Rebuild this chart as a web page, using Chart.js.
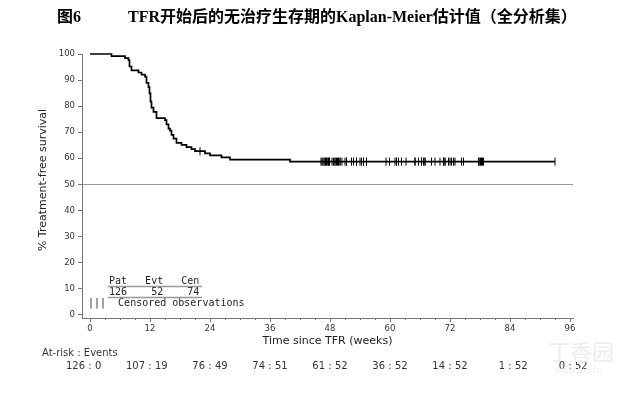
<!DOCTYPE html>
<html>
<head>
<meta charset="utf-8">
<script src="https://cdn.jsdelivr.net/npm/chart.js@4.4.0/dist/chart.umd.min.js"></script>
<style>
  html, body { margin: 0; padding: 0; background: #fff; }
</style>
</head>
<body>
<canvas id="km" width="630" height="393"></canvas>
<script>
// Kaplan-Meier steps: week of drop, % treatment-free after it
var stepWeeks = [0, 4.3, 7.0, 7.7, 7.9, 8.3, 9.7, 10.3, 11.0, 11.3, 11.7, 11.9, 12.1, 12.3, 12.7, 13.3,
  15.0, 15.3, 15.7, 16.0, 16.3, 16.7, 17.3, 18.3, 19.3, 20.3, 21.0, 23.0, 24.0, 26.3, 28.0, 40.0, 93.0];
var stepSurv = [100, 99.2, 98.4, 97.6, 95.2, 93.7, 92.9, 92.1, 91.3, 88.9, 87.3, 84.9, 81.7, 79.4, 77.8, 75.4,
  74.6, 73.0, 71.4, 70.6, 69.0, 67.5, 65.9, 65.1, 64.3, 63.5, 62.7, 61.9, 61.1, 60.3, 59.5, 58.7, 58.7];

// censored observations (weeks)
var censorWeeks = [22.0,
  46.2, 46.4, 46.6, 46.8, 47.0, 47.1, 47.3, 47.4, 47.6, 47.7, 47.9, 47.9,
  48.4, 48.7, 49.0, 49.0, 49.3, 49.5, 49.7, 50.0, 50.0, 50.4, 51.0, 51.3, 51.3, 52.3, 52.7,
  53.3, 53.3, 54.0, 54.3, 54.7, 54.7, 55.3, 55.3, 59.2, 59.9,
  61.0, 61.3, 61.3, 61.7, 62.3, 63.2, 65.0, 65.0, 65.7, 66.3, 66.3, 66.7, 67.0, 67.0, 68.3, 69.0,
  70.0, 70.7, 70.7, 71.0, 71.0, 71.7,
  72.0, 72.3, 72.7, 73.0, 74.3, 74.7, 77.7, 77.8, 78.0, 78.1, 78.3, 78.5, 78.7,
  93.0];

var xTicks = [0, 12, 24, 36, 48, 60, 72, 84, 96];
var yTicks = [0, 10, 20, 30, 40, 50, 60, 70, 80, 90, 100];
var refLine = 50;

// at-risk table
var riskWeeks = [0, 12, 24, 36, 48, 60, 72, 84, 96];
var atRisk = [126, 107, 76, 74, 61, 36, 14, 1, 0];
var events = [0, 19, 49, 51, 52, 52, 52, 52, 52];

var legendHead = 'Pat   Evt   Cen';
var legendRow = '126    52    74';

function survAt(w) {
  var s = 100;
  for (var i = 0; i < stepWeeks.length; i++) {
    if (stepWeeks[i] <= w) s = stepSurv[i];
  }
  return s;
}

var kmData = stepWeeks.map(function(w, i) { return {x: w, y: stepSurv[i]}; });
var cenData = censorWeeks.map(function(w) { return {x: w, y: survAt(w)}; });

var decor = {
  id: 'decor',
  afterDraw: function(chart) {
    var ctx = chart.ctx, xs = chart.scales.x, area = chart.chartArea;
    ctx.save();

    // minor x ticks every 3 weeks
    ctx.strokeStyle = '#777';
    ctx.lineWidth = 1;
    for (var w = 3; w < 96; w += 3) {
      if (w % 12 === 0) continue;
      var px = Math.round(xs.getPixelForValue(w)) + 0.5;
      ctx.beginPath();
      ctx.moveTo(px, area.bottom);
      ctx.lineTo(px, area.bottom + 2);
      ctx.stroke();
    }

    // title
    ctx.fillStyle = '#000';
    ctx.textBaseline = 'middle';
    ctx.textAlign = 'left';
    ctx.font = 'bold 16px "Liberation Serif", "Noto Sans CJK SC", serif';
    ctx.fillText('图6', 57, 18);
    ctx.fillText('TFR开始后的无治疗生存期的Kaplan-Meier估计值（全分析集）', 128, 18);

    // axis titles
    ctx.fillStyle = '#222';
    ctx.font = '11px "DejaVu Sans"';
    ctx.textAlign = 'center';
    ctx.fillText('Time since TFR (weeks)', (area.left + area.right) / 2, 341);
    ctx.save();
    ctx.translate(43, 180);
    ctx.rotate(-Math.PI / 2);
    ctx.fillText('% Treatment-free survival', 0, 0);
    ctx.restore();

    // inset legend
    ctx.font = '10px "DejaVu Sans Mono"';
    ctx.textAlign = 'left';
    ctx.fillStyle = '#222';
    ctx.fillText(legendHead, 109, 281);
    ctx.fillText(legendRow, 109, 292);
    ctx.fillText('|||  Censored observations', 88, 303);
    ctx.strokeStyle = '#999';
    ctx.lineWidth = 1.5;
    ctx.beginPath();
    ctx.moveTo(108, 286.5); ctx.lineTo(202, 286.5);
    ctx.moveTo(108, 297.5); ctx.lineTo(202, 297.5);
    ctx.stroke();

    // at-risk table
    ctx.fillStyle = '#333';
    ctx.font = '10px "DejaVu Sans"';
    ctx.textAlign = 'left';
    ctx.fillText('At-risk : Events', 42, 353);
    for (var i = 0; i < riskWeeks.length; i++) {
      var cx = xs.getPixelForValue(riskWeeks[i]);
      ctx.textAlign = 'center';
      ctx.fillText(':', cx, 366);
      ctx.textAlign = 'right';
      ctx.fillText(String(atRisk[i]), cx - 5, 366);
      ctx.textAlign = 'left';
      ctx.fillText(String(events[i]), cx + 5, 366);
    }

    // faint watermark
    ctx.fillStyle = '#ececec';
    ctx.font = '22px "Noto Sans CJK SC"';
    ctx.textAlign = 'left';
    ctx.fillText('丁香园', 548, 352);
    ctx.font = '7px "DejaVu Sans"';
    ctx.fillText('WWW.DXY.CN', 555, 371);

    ctx.restore();
  }
};

new Chart(document.getElementById('km'), {
  type: 'line',
  data: {
    datasets: [
      {
        label: 'KM',
        data: kmData,
        stepped: 'before',
        borderColor: '#000',
        borderWidth: 1.7,
        pointRadius: 0,
        fill: false,
        clip: false
      },
      {
        type: 'scatter',
        label: 'Censored',
        data: cenData,
        pointStyle: 'line',
        rotation: 90,
        pointRadius: 4,
        borderColor: '#000',
        borderWidth: 1,
        clip: false
      }
    ]
  },
  options: {
    responsive: false,
    animation: false,
    devicePixelRatio: 1,
    layout: { padding: { left: 0, right: 57, top: 54, bottom: 0 } },
    plugins: { legend: { display: false }, tooltip: { enabled: false } },
    scales: {
      x: {
        type: 'linear',
        min: -1.6,
        max: 96.6,
        afterBuildTicks: function(s) { s.ticks = xTicks.map(function(v) { return {value: v}; }); },
        afterFit: function(s) { s.height = 75; },
        ticks: { color: '#333', font: { family: 'DejaVu Sans', size: 8.5 }, padding: 2, maxRotation: 0, autoSkip: false },
        grid: { drawOnChartArea: false, drawTicks: true, tickLength: 4, color: '#777' },
        border: { color: '#777', width: 1 }
      },
      y: {
        type: 'linear',
        min: -1.3,
        max: 100,
        afterBuildTicks: function(s) { s.ticks = yTicks.map(function(v) { return {value: v}; }); },
        afterFit: function(s) { s.width = 82; },
        ticks: { color: '#333', font: { family: 'DejaVu Sans', size: 8.5 }, padding: 3 },
        grid: {
          drawOnChartArea: true,
          tickLength: 4,
          tickColor: '#777',
          color: function(c) { return c.tick && c.tick.value === refLine ? '#999' : 'rgba(0,0,0,0)'; }
        },
        border: { color: '#777', width: 1 }
      }
    }
  },
  plugins: [decor]
});
</script>
</body>
</html>
